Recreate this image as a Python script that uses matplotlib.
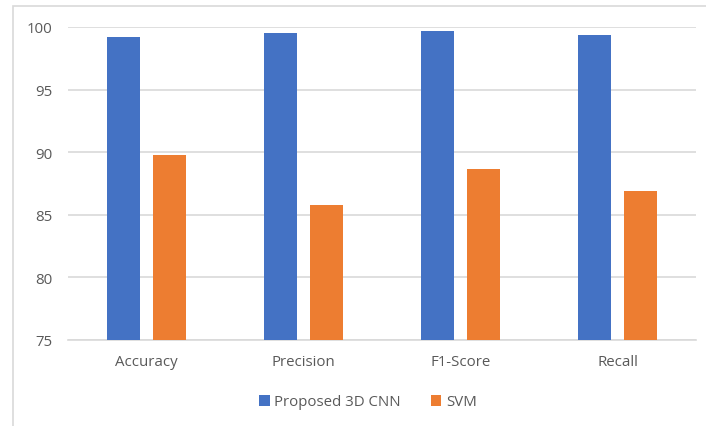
import matplotlib
matplotlib.use("Agg")
import numpy as np
import matplotlib.pyplot as plt
from matplotlib.patches import Rectangle

metrics = ['Accuracy', 'Precision', 'F1-Score', 'Recall']
cnn_scores = [99.2, 99.52, 99.66, 99.36]
svm_scores = [89.76, 85.79, 88.63, 86.93]
y_ticks = [75, 80, 85, 90, 95, 100]

plt.rcParams['font.family'] = ['Open Sans', 'DejaVu Sans']
text_color = '#595959'
grid_color = '#d9d9d9'

fig = plt.figure(figsize=(7.06, 4.27), dpi=100)
ax = fig.add_axes([68 / 706, 1 - 341 / 427, 628 / 706, 313 / 427])

# outer chart border (left and top edges only show)
fig.patches.append(Rectangle((13 / 706, -0.1), 1.1, 1 - 7 / 427 + 0.1,
                             transform=fig.transFigure, fill=False,
                             edgecolor=grid_color, linewidth=1.2))

x = np.arange(len(metrics))
w = 0.21
ax.bar(x - 0.148, cnn_scores, w, color='#4472C4', label='Proposed 3D CNN', zorder=3)
ax.bar(x + 0.148, svm_scores, w, color='#ED7D31', label='SVM', zorder=3)

ax.set_xlim(-0.5, len(metrics) - 0.5)
ax.set_ylim(75, 100)
ax.set_yticks(y_ticks)
ax.set_xticks(x)
ax.set_xticklabels(metrics)
ax.yaxis.grid(True, color=grid_color, linewidth=1.2, zorder=0)
ax.tick_params(axis='both', length=0, labelsize=10.8, colors=text_color)
ax.tick_params(axis='x', pad=10)
ax.tick_params(axis='y', pad=11)
for side in ['left', 'right', 'top']:
    ax.spines[side].set_visible(False)
ax.spines['bottom'].set_color(grid_color)
ax.spines['bottom'].set_linewidth(1.2)

leg = fig.legend(loc='center', bbox_to_anchor=(368 / 706, 1 - 403 / 427), ncol=2,
                 frameon=False, fontsize=10.8, handlelength=0.7, handleheight=0.7,
                 handletextpad=0.3, columnspacing=2.0)
for t in leg.get_texts():
    t.set_color(text_color)

plt.savefig('out.png', dpi=100)
